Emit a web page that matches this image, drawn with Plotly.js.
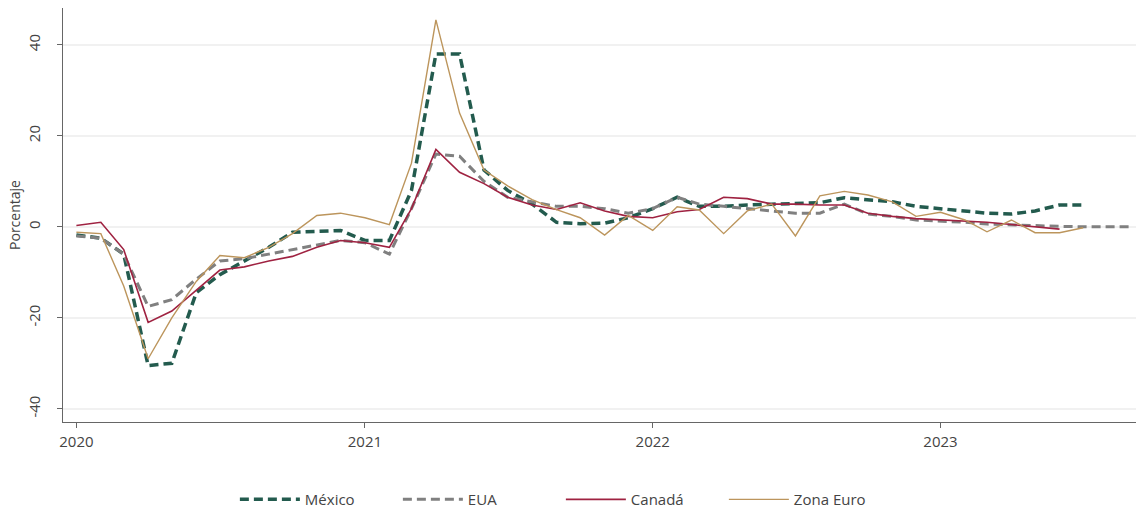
<!DOCTYPE html>
<html>
<head>
<meta charset="utf-8">
<script src="https://cdn.plot.ly/plotly-3.0.1.min.js"></script>
<style>
  html, body { margin: 0; padding: 0; background: #ffffff; }
  #chart { width: 1136px; height: 514px; }
</style>
</head>
<body>
<div id="chart"></div>
<script>
// Monthly dates (Jan 2020 - Sep 2023)
var months = [
  "2020-01-01","2020-02-01","2020-03-01","2020-04-01","2020-05-01","2020-06-01",
  "2020-07-01","2020-08-01","2020-09-01","2020-10-01","2020-11-01","2020-12-01",
  "2021-01-01","2021-02-01","2021-03-01","2021-04-01","2021-05-01","2021-06-01",
  "2021-07-01","2021-08-01","2021-09-01","2021-10-01","2021-11-01","2021-12-01",
  "2022-01-01","2022-02-01","2022-03-01","2022-04-01","2022-05-01","2022-06-01",
  "2022-07-01","2022-08-01","2022-09-01","2022-10-01","2022-11-01","2022-12-01",
  "2023-01-01","2023-02-01","2023-03-01","2023-04-01","2023-05-01","2023-06-01",
  "2023-07-01","2023-08-01","2023-09-01"
];

// Porcentaje, by country
var mexico = [
  -1.8, -2.5, -6, -30.5, -30, -14.5, -10.5, -7.5, -4.5, -1.2, -1, -0.8,
  -3, -3, 8, 38, 38, 12.5, 8, 5, 1, 0.7, 0.8, 2,
  4, 6.5, 4.5, 4.5, 4.8, 5, 5.2, 5.3, 6.4, 6, 5.5, 4.5,
  4, 3.5, 3, 2.8, 3.5, 4.8, 4.8
];
var eua = [
  -2, -2.5, -6, -17.5, -16, -11.5, -7.5, -7, -6, -5, -4, -3,
  -3.5, -6, 4, 16, 15.5, 10, 6.5, 5.5, 4.5, 4.5, 4, 3,
  4, 6.5, 5, 4.5, 4, 3.5, 3, 3, 5, 2.8, 2.3, 1.5,
  1.3, 1, 0.6, 0.4, 0.2, 0.1, 0, 0, 0
];
var canada = [
  0.3, 1, -5, -21, -18.5, -14, -9.5, -8.8, -7.5, -6.5, -4.5, -3,
  -3.5, -4.5, 4, 17, 12, 9.5, 6.5, 4.8, 3.8, 5.3, 3.5, 2.3,
  2, 3.3, 3.8, 6.5, 6.2, 5, 5, 4.8, 4.8, 3, 2.3, 1.8,
  1.5, 1.3, 1, 0.5, 0, -0.5
];
var zonaEuro = [
  -1.2, -1.5, -13, -29, -20, -12, -6.3, -6.8, -4.5, -1.5, 2.5, 3,
  2, 0.5, 14, 45.5, 25, 12.5, 9, 6, 3.8, 2, -1.8, 2.5,
  -0.8, 4.4, 3.7, -1.5, 3.5, 5, -2, 6.8, 7.8, 7, 5.5, 2.3,
  3.2, 1.5, -1.1, 1.5, -1.3, -1.3, -0.2
];

var names = ["México", "EUA", "Canadá", "Zona Euro"];
var tickYears = ["2020-01-01", "2021-01-01", "2022-01-01", "2023-01-01"];
var tickYearLabels = ["2020", "2021", "2022", "2023"];
var yTicks = [-40, -20, 0, 20, 40];

var FONT = "Open Sans, Lato, sans-serif";

var traces = [
  { x: months.slice(0, mexico.length), y: mexico, name: names[0], mode: "lines",
    line: { color: "#235B4E", width: 3.5, dash: "9px,5px" } },
  { x: months.slice(0, eua.length), y: eua, name: names[1], mode: "lines",
    line: { color: "#808080", width: 3, dash: "9px,5px" } },
  { x: months.slice(0, canada.length), y: canada, name: names[2], mode: "lines",
    line: { color: "#9F2241", width: 1.6 } },
  { x: months.slice(0, zonaEuro.length), y: zonaEuro, name: names[3], mode: "lines",
    line: { color: "#BC955C", width: 1.4 } }
];

var layout = {
  width: 1136, height: 514,
  margin: { l: 63, r: 0, t: 8, b: 92, pad: 0, autoexpand: false },
  paper_bgcolor: "#ffffff", plot_bgcolor: "#ffffff",
  font: { family: FONT, size: 14, color: "#444444" },
  showlegend: true,
  legend: {
    orientation: "h", x: 0.464, xanchor: "center",
    yref: "container", y: 0.028, yanchor: "middle",
    font: { family: FONT, size: 15, color: "#444444" },
    itemwidth: 60, tracegroupgap: 0,
    entrywidth: 88, entrywidthmode: "pixels"
  },
  xaxis: {
    type: "date",
    range: ["2019-12-15", "2023-09-06"],
    tickvals: tickYears, ticktext: tickYearLabels,
    ticks: "outside", ticklen: 5, tickcolor: "#666666", tickwidth: 1,
    ticklabelstandoff: 1,
    showline: true, linecolor: "#666666", linewidth: 1,
    showgrid: false, zeroline: false, automargin: false,
    tickfont: { family: FONT, size: 15, color: "#444444" }
  },
  yaxis: {
    range: [-42.9, 48.1],
    tickvals: yTicks, ticktext: yTicks.map(String),
    tickangle: -90,
    ticks: "outside", ticklen: 5, tickcolor: "#666666", tickwidth: 1,
    ticklabelstandoff: 11,
    showline: true, linecolor: "#666666", linewidth: 1,
    showgrid: true, gridcolor: "#f1f1f1", gridwidth: 1.5,
    zeroline: false, automargin: false,
    tickfont: { family: FONT, size: 15, color: "#444444" },
    title: { text: "Porcentaje", font: { family: FONT, size: 14, color: "#444444" }, standoff: 0 }
  }
};

Plotly.newPlot("chart", traces, layout, { displayModeBar: false, staticPlot: true });
</script>
</body>
</html>
